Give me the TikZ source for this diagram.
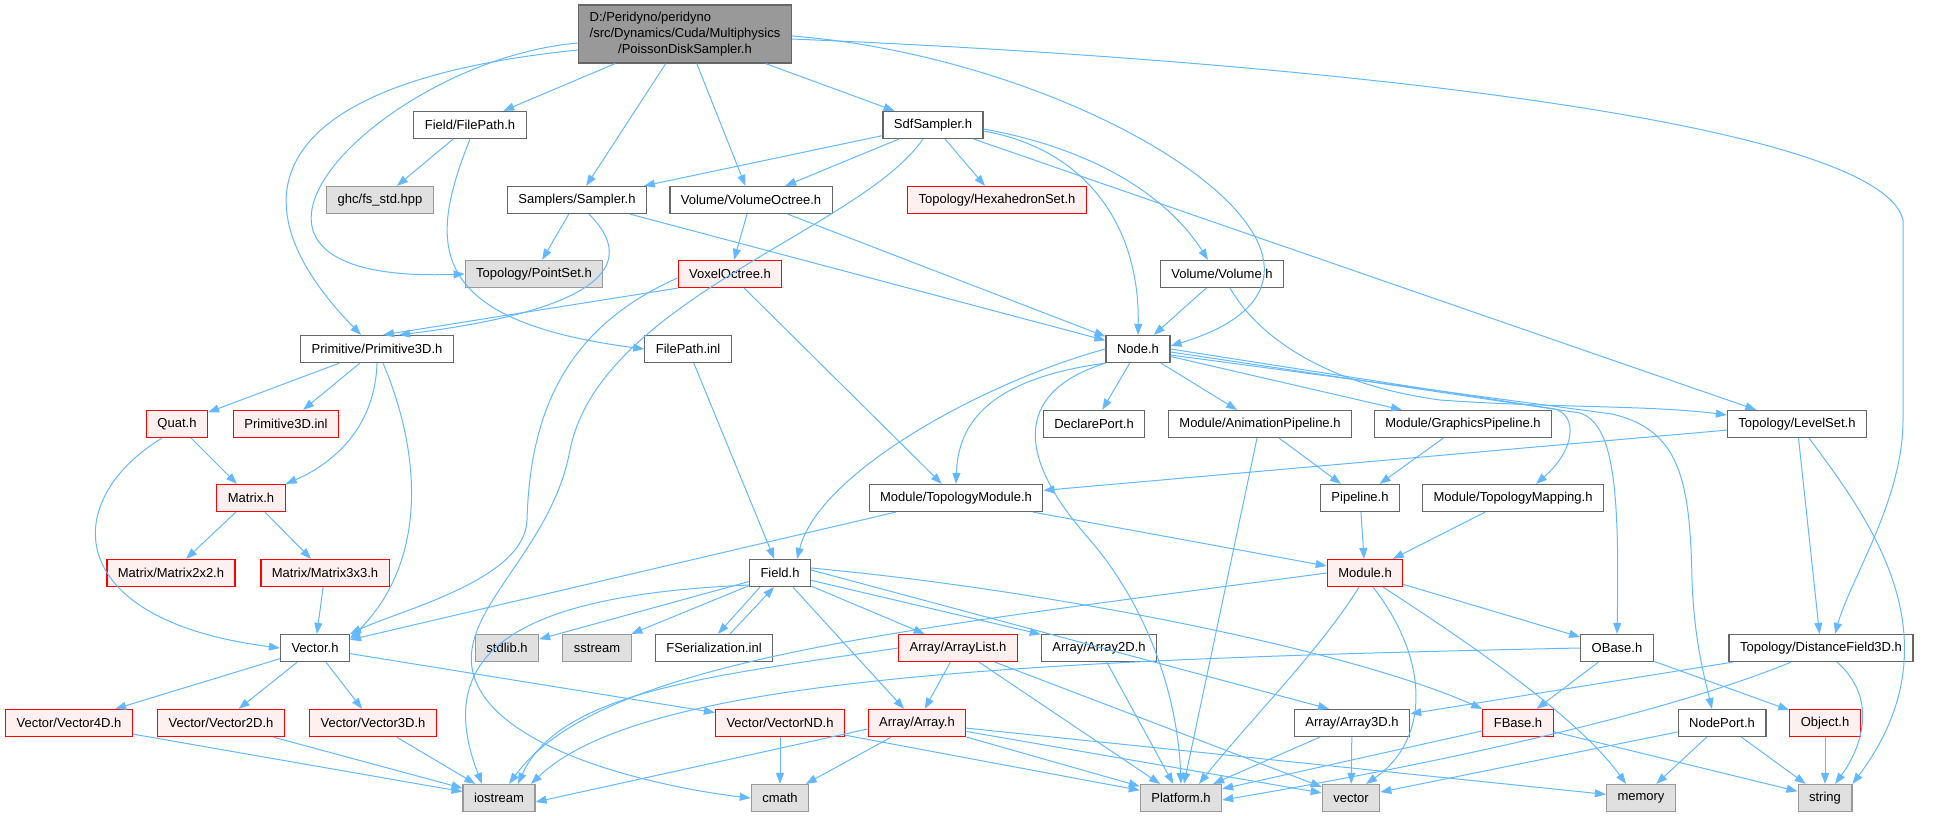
\documentclass[tikz,border=0pt]{standalone}
\usepackage{fontspec}
\setmainfont{Liberation Sans}
\usetikzlibrary{arrows.meta}
\definecolor{edgeblue}{HTML}{63B8FF}
\definecolor{boxgray}{HTML}{666666}
\definecolor{sysgray}{HTML}{999999}
\definecolor{sysfill}{HTML}{E0E0E0}
\definecolor{redfill}{HTML}{FFF0F0}
\definecolor{rootfill}{HTML}{999999}
\begin{document}
\begin{tikzpicture}[x=1pt,y=-1pt,
    hdr/.style={rectangle, draw=boxgray, fill=white, line width=1.2pt, inner xsep=11pt, inner ysep=0pt,
      minimum height=27pt, font=\fontsize{13}{16}\selectfont},
    syshdr/.style={hdr, draw=sysgray, fill=sysfill},
    redhdr/.style={hdr, draw=red, fill=redfill},
    roothdr/.style={hdr, fill=rootfill, align=center, minimum height=58pt},
    incl/.style={draw=edgeblue, line width=1pt, -{Triangle[length=11pt,width=8pt]}}]
            \useasboundingbox (0,0) rectangle (1935,816);
            \node [roothdr] (root) at (685,34) {\rlap{D:/Peridyno/peridyno}\phantom{/src/Dynamics/Cuda/Multiphysics}\\/src/Dynamics/Cuda/Multiphysics\\/PoissonDiskSampler.h};
            \node [hdr] (filepathh) at (470,125) {Field/FilePath.h};
            \node [hdr] (sdf) at (933,125) {SdfSampler.h};
            \node [syshdr] (ghc) at (380,200) {ghc/fs\_std.hpp};
            \node [hdr] (sampler) at (577,200) {Samplers/Sampler.h};
            \node [hdr] (volocth) at (751,200) {Volume/VolumeOctree.h};
            \node [redhdr] (hexa) at (997,200) {Topology/HexahedronSet.h};
            \node [syshdr] (pointset) at (534,274) {Topology/PointSet.h};
            \node [redhdr] (voxel) at (730,274) {VoxelOctree.h};
            \node [hdr] (volume) at (1222,274) {Volume/Volume.h};
            \node [hdr] (prim) at (377,349) {Primitive/Primitive3D.h};
            \node [hdr] (fpinl) at (688,349) {FilePath.inl};
            \node [hdr] (nodeh) at (1138,349) {Node.h};
            \node [redhdr] (quat) at (177,424) {Quat.h};
            \node [redhdr] (priminl) at (286,424) {Primitive3D.inl};
            \node [hdr] (declare) at (1094,424) {DeclarePort.h};
            \node [hdr] (anim) at (1260,424) {Module/AnimationPipeline.h};
            \node [hdr] (graphics) at (1463,424) {Module/GraphicsPipeline.h};
            \node [hdr] (levelset) at (1797,424) {Topology/LevelSet.h};
            \node [redhdr] (matrix) at (251,498) {Matrix.h};
            \node [hdr] (topomod) at (956,498) {Module/TopologyModule.h};
            \node [hdr] (pipeline) at (1360,498) {Pipeline.h};
            \node [hdr] (topomap) at (1513,498) {Module/TopologyMapping.h};
            \node [redhdr] (mat2) at (171,573) {Matrix/Matrix2x2.h};
            \node [redhdr] (mat3) at (325,573) {Matrix/Matrix3x3.h};
            \node [hdr] (field) at (780,573) {Field.h};
            \node [redhdr] (module) at (1365,573) {Module.h};
            \node [hdr] (vectorh) at (315,648) {Vector.h};
            \node [syshdr] (stdlib) at (507,648) {stdlib.h};
            \node [syshdr] (sstream) at (597,648) {sstream};
            \node [hdr] (fser) at (714,648) {FSerialization.inl};
            \node [redhdr] (arraylist) at (958,648) {Array/ArrayList.h};
            \node [hdr] (array2d) at (1099,648) {Array/Array2D.h};
            \node [hdr] (obase) at (1617,648) {OBase.h};
            \node [hdr] (df3d) at (1821,648) {Topology/DistanceField3D.h};
            \node [redhdr] (vec4) at (69,723) {Vector/Vector4D.h};
            \node [redhdr] (vec2) at (221,723) {Vector/Vector2D.h};
            \node [redhdr] (vec3) at (373,723) {Vector/Vector3D.h};
            \node [redhdr] (vecnd) at (780,723) {Vector/VectorND.h};
            \node [redhdr] (array) at (917,723) {Array/Array.h};
            \node [hdr] (array3d) at (1352,723) {Array/Array3D.h};
            \node [redhdr] (fbase) at (1518,723) {FBase.h};
            \node [hdr] (nodeport) at (1722,723) {NodePort.h};
            \node [redhdr] (object) at (1825,723) {Object.h};
            \node [syshdr] (iostream) at (499,798) {iostream};
            \node [syshdr] (cmath) at (780,798) {cmath};
            \node [syshdr] (platform) at (1181,798) {Platform.h};
            \node [syshdr] (stdvec) at (1351,798) {vector};
            \node [syshdr] (memory) at (1641,798) {memory};
            \node [syshdr] (string) at (1825,798) {string};
            \draw [incl] (root) -- (filepathh);
            \draw [incl] (root) -- (sdf);
            \draw [incl] (root) -- (sampler);
            \draw [incl] (root) -- (volocth);
            \draw [incl] ([yshift=-9pt]root.west) .. controls (380,60) and (160,285) .. (pointset.west);
            \draw [incl] ([yshift=-16pt]root.west) .. controls (280,80) and (220,190) .. ([xshift=-16pt]prim.north);
            \draw [incl] ([yshift=-2pt]root.east) .. controls (1100,60) and (1420,270) .. ([yshift=3pt]nodeh.east);
            \draw [incl] ([yshift=-5pt]root.east) .. controls (1300,60) and (1880,120) .. (1903,220) -- (1903,420) .. controls (1903,500) and (1850,580) .. ([xshift=14pt]df3d.north);
            \draw [incl] (filepathh) -- (ghc);
            \draw [incl] (filepathh.south) .. controls (430,240) and (420,320) .. (fpinl.west);
            \draw [incl] (sdf) -- (sampler);
            \draw [incl] (sdf) -- (volocth);
            \draw [incl] (sdf) -- (hexa);
            \draw [incl] (sdf) -- (levelset);
            \draw [incl] ([yshift=-4pt]sdf.east) .. controls (1100,150) and (1170,200) .. ([xshift=-14pt]volume.north);
            \draw [incl] ([yshift=-6pt]sdf.east) .. controls (1090,150) and (1140,230) .. (nodeh.north);
            \draw [incl] ([xshift=-10pt]sdf.south) .. controls (860,230) and (600,300) .. (570,450) .. controls (550,560) and (440,620) .. (480,690) .. controls (520,760) and (680,790) .. (cmath.west);
            \draw [incl] (sampler) -- (pointset);
            \draw [incl] (sampler) -- (nodeh);
            \draw [incl] ([xshift=12pt]sampler.south) .. controls (640,265) and (600,310) .. ([xshift=22pt]prim.north);
            \draw [incl] (volocth) -- (voxel);
            \draw [incl] (volocth) -- (nodeh);
            \draw [incl] (voxel.south west) -- ([xshift=6pt]prim.north);
            \draw [incl] (voxel) -- (topomod);
            \draw [incl] ([yshift=-4pt]voxel.west) .. controls (560,330) and (530,420) .. (527,520) .. controls (525,580) and (400,610) .. (vectorh.north east);
            \draw [incl] (volume) -- (nodeh);
            \draw [incl] ([xshift=8pt]volume.south) .. controls (1260,340) and (1330,385) .. (1440,400) .. controls (1550,408) and (1650,405) .. ([yshift=9pt]levelset.west);
            \draw [incl] (prim) -- (quat);
            \draw [incl] (prim) -- (priminl);
            \draw [incl] (prim.south) .. controls (375,430) and (330,465) .. (matrix.north east);
            \draw [incl] ([xshift=6pt]prim.south) .. controls (420,450) and (430,560) .. ([yshift=-5pt]vectorh.north east);
            \draw [incl] (fpinl) -- (field);
            \draw [incl] (quat) -- (matrix);
            \draw [incl] ([xshift=-15pt]quat.south) .. controls (60,500) and (60,620) .. (vectorh.west);
            \draw [incl] (matrix) -- (mat2);
            \draw [incl] (matrix) -- (mat3);
            \draw [incl] (mat3) -- (vectorh);
            \draw [incl] (vectorh) -- (vec4);
            \draw [incl] (vectorh) -- (vec2);
            \draw [incl] (vectorh) -- (vec3);
            \draw [incl] (vectorh) -- (vecnd);
            \draw [incl] (vec4) -- (iostream);
            \draw [incl] (vec2) -- (iostream);
            \draw [incl] (vec3) -- (iostream);
            \draw [incl] (vecnd) -- (cmath);
            \draw [incl] (vecnd) -- (platform);
            \draw [incl] (nodeh) -- (declare);
            \draw [incl] (nodeh) -- (anim);
            \draw [incl] (nodeh) -- (graphics);
            \draw [incl] (nodeh.west) .. controls (990,380) and (820,470) .. ([xshift=17pt]field.north);
            \draw [incl] (nodeh.south west) .. controls (980,380) and (958,430) .. (topomod.north);
            \draw [incl] (nodeh.south west) .. controls (1020,390) and (1010,450) .. (1090,540) .. controls (1150,610) and (1178,700) .. (platform.north);
            \draw [incl] (nodeh.east) -- (1555,409) .. controls (1578,416) and (1575,450) .. ([xshift=23pt]topomap.north);
            \draw [incl] ([yshift=-3pt]nodeh.east) -- (1580,413) .. controls (1612,424) and (1620,480) .. (obase.north);
            \draw [incl] ([yshift=-6pt]nodeh.east) -- (1612,414) .. controls (1680,430) and (1690,480) .. (1692,580) .. controls (1694,640) and (1705,680) .. ([xshift=-10pt]nodeport.north);
            \draw [incl] (anim) -- (pipeline);
            \draw [incl] (graphics) -- (pipeline);
            \draw [incl] (anim) -- (platform);
            \draw [incl] (pipeline) -- (module);
            \draw [incl] (topomap) -- (module);
            \draw [incl] (topomod) -- (module);
            \draw [incl] (topomod) -- (vectorh);
            \draw [incl] (levelset) -- (topomod);
            \draw [incl] (levelset) -- (df3d);
            \draw [incl] ([xshift=12pt]levelset.south) .. controls (1870,520) and (1960,640) .. (string.north east);
            \draw [incl] (field) -- (stdlib);
            \draw [incl] (field) -- (sstream);
            \draw [incl] ([yshift=-12pt]field.west) .. controls (520,595) and (430,650) .. ([xshift=-17pt]iostream.north);
            \draw [incl] ([xshift=-20pt]field.south) -- ([xshift=4pt]fser.north);
            \draw [incl] ([xshift=16pt]fser.north) -- ([xshift=-6pt]field.south);
            \draw [incl] (field) -- (array);
            \draw [incl] (field) -- (arraylist);
            \draw [incl] (field) -- (array2d);
            \draw [incl] ([yshift=3pt]field.east) -- ([xshift=-23pt]array3d.north);
            \draw [incl] ([yshift=5pt]field.east) .. controls (1050,590) and (1350,650) .. (fbase.north west);
            \draw [incl] (arraylist) -- (array);
            \draw [incl] (arraylist.west) .. controls (720,675) and (560,690) .. ([xshift=19pt]iostream.north);
            \draw [incl] (arraylist) -- (platform);
            \draw [incl] (arraylist) -- (stdvec);
            \draw [incl] (array2d) -- (platform);
            \draw [incl] (array) -- (cmath);
            \draw [incl] (array) -- (platform);
            \draw [incl] (array) -- (stdvec);
            \draw [incl] (array) -- (memory);
            \draw [incl] ([yshift=-6pt]array.west) -- ([yshift=-4pt]iostream.east);
            \draw [incl] (array3d) -- (platform);
            \draw [incl] (array3d) -- (stdvec);
            \draw [incl] (module) -- (obase);
            \draw [incl] (module.west) .. controls (900,630) and (600,660) .. ([xshift=10pt]iostream.north);
            \draw [incl] ([xshift=-6pt]module.south) .. controls (1320,650) and (1250,720) .. ([xshift=18pt]platform.north);
            \draw [incl] ([xshift=8pt]module.south) .. controls (1430,660) and (1430,740) .. ([xshift=15pt]stdvec.north);
            \draw [incl] ([xshift=18pt]module.south) .. controls (1480,650) and (1580,720) .. ([xshift=-15pt]memory.north);
            \draw [incl] (obase) -- (fbase);
            \draw [incl] (obase) -- (object);
            \draw [incl] (obase.west) .. controls (1000,660) and (640,680) .. ([xshift=32pt]iostream.north);
            \draw [incl] (fbase) -- (platform);
            \draw [incl] (fbase) -- (string);
            \draw [incl] (df3d) -- (array3d);
            \draw [incl] ([xshift=-30pt]df3d.south) .. controls (1650,720) and (1400,770) .. ([yshift=-2pt]platform.east);
            \draw [incl] ([xshift=16pt]df3d.south) .. controls (1880,700) and (1860,750) .. ([xshift=10pt]string.north);
            \draw [incl] (nodeport) -- (stdvec);
            \draw [incl] (nodeport) -- (memory);
            \draw [incl] (nodeport) -- (string);
            \draw [incl] (object) -- (string);
\end{tikzpicture}
\end{document}
